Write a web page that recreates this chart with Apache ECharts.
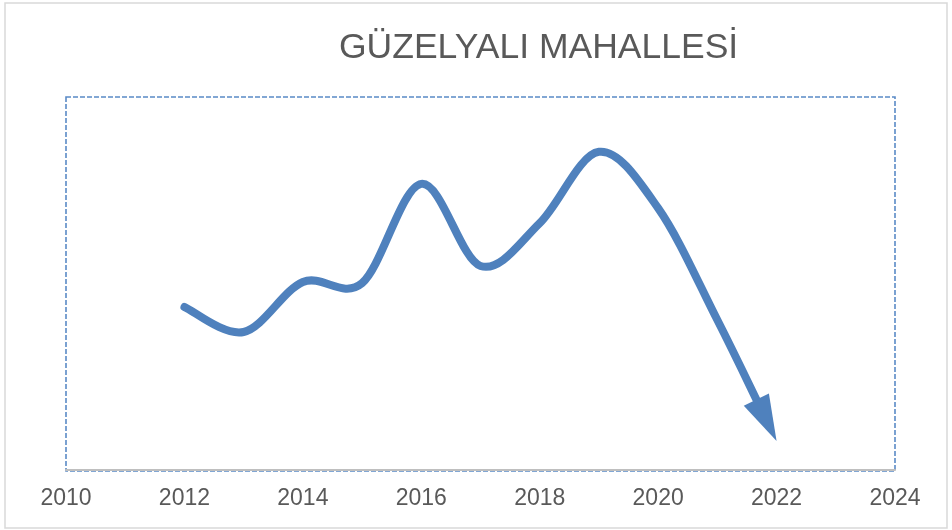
<!DOCTYPE html>
<html>
<head>
<meta charset="utf-8">
<script src="https://cdn.jsdelivr.net/npm/echarts@6/dist/echarts.min.js"></script>
<style>
  html, body { margin: 0; padding: 0; background: #ffffff; }
  #chart { width: 952px; height: 530px; }
</style>
</head>
<body>
<div id="chart"></div>
<script>
// Yearly values of the trend line (index units)
const years  = [2012, 2013, 2014, 2015, 2016, 2017, 2018, 2019, 2020, 2021, 2022];
const values = [43.7, 37.0, 50.4, 50.1, 76.7, 54.7, 66.2, 85.3, 70.2, 40.2, 7.8];

// Horizontal axis range and tick step
const xMin = 2010, xMax = 2024, xStep = 2;
const titleText = 'GÜZELYALI MAHALLESİ';

const LINE_COLOR = '#4f81bd';
const TEXT_COLOR = '#595959';
const ARROW_LEN = 46;
const ARROW_WIDTH = 28;

// Smooth curve through every yearly point, ending in an arrow head
function renderTrend(params, api) {
  const p = years.map((yr, i) => api.coord([yr, values[i]]));
  const n = p.length;
  const tan = i => {
    const a = p[Math.max(i - 1, 0)], b = p[Math.min(i + 1, n - 1)];
    return [(b[0] - a[0]) / 6, (b[1] - a[1]) / 6];
  };
  let d = 'M' + p[0][0] + ',' + p[0][1];
  for (let i = 0; i < n - 1; i++) {
    const t0 = tan(i), t1 = tan(i + 1);
    let c1 = [p[i][0] + t0[0], p[i][1] + t0[1]];
    let c2 = [p[i + 1][0] - t1[0], p[i + 1][1] - t1[1]];
    let end = p[i + 1];
    if (i === n - 2) {
      // stop the stroke inside the arrow head
      const dx = end[0] - c2[0], dy = end[1] - c2[1];
      const len = Math.hypot(dx, dy);
      const ux = dx / len, uy = dy / len;
      const back = ARROW_LEN * 0.8;
      end = [end[0] - ux * back, end[1] - uy * back];
      c2 = [end[0] - ux * len, end[1] - uy * len];
    }
    d += ' C' + c1[0] + ',' + c1[1] + ' ' + c2[0] + ',' + c2[1] + ' ' + end[0] + ',' + end[1];
  }
  const tip = p[n - 1];
  const tl = tan(n - 1);
  const tlen = Math.hypot(tl[0], tl[1]);
  const ux = tl[0] / tlen, uy = tl[1] / tlen;
  const bx = tip[0] - ux * ARROW_LEN, by = tip[1] - uy * ARROW_LEN;
  const px = -uy * ARROW_WIDTH / 2, py = ux * ARROW_WIDTH / 2;
  return {
    type: 'group',
    children: [
      {
        type: 'path',
        shape: { pathData: d },
        style: { stroke: LINE_COLOR, lineWidth: 8, fill: 'none', lineCap: 'round', lineJoin: 'round' }
      },
      {
        type: 'polygon',
        shape: { points: [[tip[0], tip[1]], [bx + px, by + py], [bx - px, by - py]] },
        style: { fill: LINE_COLOR }
      }
    ]
  };
}

const chart = echarts.init(document.getElementById('chart'), null, { renderer: 'canvas' });
chart.setOption({
  animation: false,
  backgroundColor: '#ffffff',
  title: {
    text: titleText,
    left: 334,
    top: 25,
    textStyle: { fontFamily: 'Liberation Sans, Arial, sans-serif', fontSize: 35.5, fontWeight: 'normal', color: TEXT_COLOR }
  },
  grid: { left: 66, right: 57, top: 97, bottom: 60 },
  graphic: [
    {
      type: 'rect', z: -1, silent: true,
      shape: { x: 5, y: 3, width: 942, height: 525 },
      style: { fill: 'none', stroke: '#d9d9d9', lineWidth: 1.5 }
    },
    {
      type: 'rect', z: 0, silent: true,
      shape: { x: 66, y: 97, width: 829, height: 374 },
      style: { fill: 'none', stroke: '#5a8ac6', lineWidth: 1.6, lineDash: [5, 2] }
    }
  ],
  xAxis: {
    type: 'value',
    min: xMin, max: xMax, interval: xStep,
    axisLine: { show: true, lineStyle: { color: '#bfbfbf', width: 2 } },
    axisTick: { show: false },
    splitLine: { show: false },
    axisLabel: {
      margin: 17,
      fontFamily: 'Liberation Sans, Arial, sans-serif',
      fontSize: 23,
      color: TEXT_COLOR,
      formatter: v => String(v)
    }
  },
  yAxis: { type: 'value', min: 0, max: 100, show: false, splitLine: { show: false } },
  series: [{
    type: 'custom',
    clip: false,
    renderItem: renderTrend,
    encode: { x: 0, y: 1 },
    data: [[years[0], values[0]]],
    z: 5
  }]
});
</script>
</body>
</html>
